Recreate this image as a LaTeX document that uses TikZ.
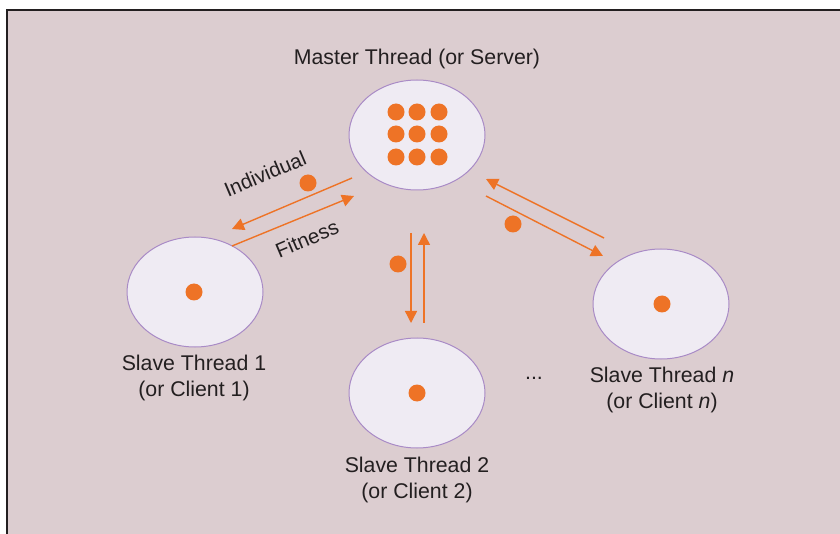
\documentclass[tikz,border=0pt]{standalone}
\usepackage{fontspec}
\setmainfont{Liberation Sans}
\usetikzlibrary{shapes.geometric,arrows.meta}
\definecolor{bgpink}{HTML}{DCCDD0}
\definecolor{cellfill}{HTML}{EFEBF3}
\definecolor{cellline}{HTML}{A98BC6}
\definecolor{accent}{HTML}{EE7326}
\definecolor{ink}{HTML}{231F20}
\begin{document}
\begin{tikzpicture}[x=1pt,y=-1pt,
  thread/.style={ellipse, draw=cellline, line width=1pt, fill=cellfill,
    minimum width=136pt, minimum height=110pt, inner sep=0pt},
  token/.style={circle, fill=accent, minimum size=17pt, inner sep=0pt},
  flow/.style={draw=accent, line width=1.4pt, -{Triangle[length=12pt,width=12pt]}},
  caption/.style={text=ink, font=\fontsize{21.3}{26}\selectfont, align=center, inner sep=0pt},
  tag/.style={text=ink, font=\fontsize{20.5}{24}\selectfont, inner sep=0pt}]
  \useasboundingbox (0,0) rectangle (840,534);
  \clip (0,0) rectangle (840,534);
  % panel
  \draw[fill=bgpink, draw=ink, line width=1.5pt] (7,10) rectangle (860,560);

  % threads
  \node[thread] (master) at (417,135) {};
  \node[thread] (s1) at (195,292) {};
  \node[thread] (s2) at (417,393) {};
  \node[thread] (sn) at (661,304) {};

  % individuals held by the master
  \foreach \cx/\ci in {396/a,417/b,439/c}
    \foreach \cy/\cj in {112/a,134/b,157/c}
      \node[token] (m\ci\cj) at (\cx,\cy) {};
  \node[token] (d1) at (194,292) {};
  \node[token] (d2) at (417,393) {};
  \node[token] (dn) at (662,304) {};

  % captions
  \node[caption] (lm) at (417,59) {Master Thread (or Server)};
  \node[caption] (l1) at (194,378) {Slave Thread 1\\(or Client 1)};
  \node[caption] (l2) at (417,480) {Slave Thread 2\\(or Client 2)};
  \node[caption] (ln) at (662,390) {Slave Thread \textit{n}\\(or Client \textit{n})};
  \node[caption] (dots) at (534,378) {...};

  % master <-> slave 1
  \coordinate (a1s) at (352,178);
  \coordinate (a1e) at (232,229);
  \coordinate (b1s) at (232,246);
  \coordinate (b1e) at (354,196);
  \draw[flow] (a1s) -- (a1e);
  \draw[flow] (b1s) -- (b1e);
  \node[token] (t1) at (308,183) {};
  \node[tag, rotate=23] (ind) at (265,174) {Individual};
  \node[tag, rotate=23] (fit) at (307,239) {Fitness};

  % master <-> slave 2
  \coordinate (a2s) at (411,233);
  \coordinate (a2e) at (411,323);
  \coordinate (b2s) at (424,323);
  \coordinate (b2e) at (424,233);
  \draw[flow] (a2s) -- (a2e);
  \draw[flow] (b2s) -- (b2e);
  \node[token] (t2) at (398,264) {};

  % master <-> slave n
  \coordinate (ans) at (486,196);
  \coordinate (ane) at (603,256);
  \coordinate (bns) at (604,238);
  \coordinate (bne) at (486,179);
  \draw[flow] (ans) -- (ane);
  \draw[flow] (bns) -- (bne);
  \node[token] (tn) at (513,224) {};
\end{tikzpicture}
\end{document}
